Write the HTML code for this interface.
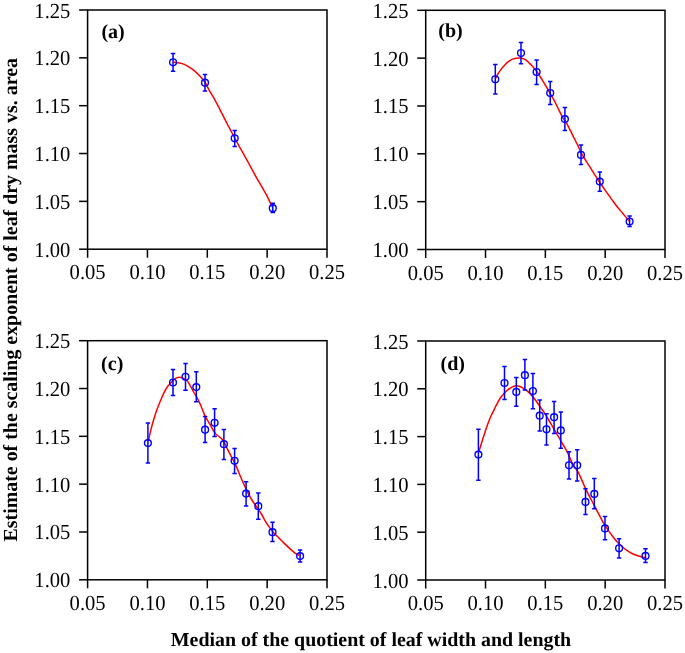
<!DOCTYPE html>
<html><head><meta charset="utf-8"><style>
html,body{margin:0;padding:0;background:#fff;width:685px;height:653px;overflow:hidden}
svg{display:block;will-change:transform;text-rendering:geometricPrecision}
.t{font-family:"Liberation Serif",serif;font-size:20.6px;fill:#000}
.pl{font-family:"Liberation Serif",serif;font-size:20px;font-weight:bold;fill:#000}
.ti{font-family:"Liberation Serif",serif;font-size:19.92px;font-weight:bold;fill:#000}
</style></head><body>
<svg width="685" height="653" viewBox="0 0 685 653">
<rect width="685" height="653" fill="#fff"/>
<rect x="87.6" y="10.0" width="239.40" height="239.20" fill="none" stroke="#000" stroke-width="1.5"/>
<line x1="79.10" y1="249.20" x2="87.60" y2="249.20" stroke="#000" stroke-width="1.5"/>
<text transform="translate(70.40,256.70) scale(1,1.04)" text-anchor="end" class="t">1.00</text>
<line x1="79.10" y1="201.36" x2="87.60" y2="201.36" stroke="#000" stroke-width="1.5"/>
<text transform="translate(70.40,208.86) scale(1,1.04)" text-anchor="end" class="t">1.05</text>
<line x1="79.10" y1="153.52" x2="87.60" y2="153.52" stroke="#000" stroke-width="1.5"/>
<text transform="translate(70.40,161.02) scale(1,1.04)" text-anchor="end" class="t">1.10</text>
<line x1="79.10" y1="105.68" x2="87.60" y2="105.68" stroke="#000" stroke-width="1.5"/>
<text transform="translate(70.40,113.18) scale(1,1.04)" text-anchor="end" class="t">1.15</text>
<line x1="79.10" y1="57.84" x2="87.60" y2="57.84" stroke="#000" stroke-width="1.5"/>
<text transform="translate(70.40,65.34) scale(1,1.04)" text-anchor="end" class="t">1.20</text>
<line x1="79.10" y1="10.00" x2="87.60" y2="10.00" stroke="#000" stroke-width="1.5"/>
<text transform="translate(70.40,17.50) scale(1,1.04)" text-anchor="end" class="t">1.25</text>
<line x1="87.60" y1="249.20" x2="87.60" y2="257.70" stroke="#000" stroke-width="1.5"/>
<text transform="translate(87.60,279.40) scale(1,1.04)" text-anchor="middle" class="t">0.05</text>
<line x1="147.45" y1="249.20" x2="147.45" y2="257.70" stroke="#000" stroke-width="1.5"/>
<text transform="translate(147.45,279.40) scale(1,1.04)" text-anchor="middle" class="t">0.10</text>
<line x1="207.30" y1="249.20" x2="207.30" y2="257.70" stroke="#000" stroke-width="1.5"/>
<text transform="translate(207.30,279.40) scale(1,1.04)" text-anchor="middle" class="t">0.15</text>
<line x1="267.15" y1="249.20" x2="267.15" y2="257.70" stroke="#000" stroke-width="1.5"/>
<text transform="translate(267.15,279.40) scale(1,1.04)" text-anchor="middle" class="t">0.20</text>
<line x1="327.00" y1="249.20" x2="327.00" y2="257.70" stroke="#000" stroke-width="1.5"/>
<text transform="translate(327.00,279.40) scale(1,1.04)" text-anchor="middle" class="t">0.25</text>
<text x="101.4" y="37.8" class="pl">(a)</text>
<path d="M173.70,62.30 C175.12,62.52 179.75,62.88 182.20,63.60 C184.65,64.32 186.35,65.38 188.40,66.60 C190.45,67.82 192.52,69.23 194.50,70.90 C196.48,72.57 198.48,74.58 200.30,76.60 C202.12,78.62 203.83,80.58 205.40,83.00 C206.97,85.42 208.28,88.58 209.70,91.10 C211.12,93.62 212.48,95.60 213.90,98.10 C215.32,100.60 216.77,103.33 218.20,106.10 C219.63,108.87 220.90,111.55 222.50,114.70 C224.10,117.85 226.12,121.78 227.80,125.00 C229.48,128.22 230.77,130.55 232.60,134.00 C234.43,137.45 236.85,142.15 238.80,145.70 C240.75,149.25 242.77,152.58 244.30,155.30 C245.83,158.02 246.70,159.62 248.00,162.00 C249.30,164.38 250.62,166.88 252.10,169.60 C253.58,172.32 255.30,175.47 256.90,178.30 C258.50,181.13 260.08,183.78 261.70,186.60 C263.32,189.42 265.10,192.33 266.60,195.20 C268.10,198.07 269.73,201.85 270.70,203.80 C271.67,205.75 272.12,206.38 272.40,206.90" fill="none" stroke="#f00" stroke-width="1.5"/>
<path d="M173.05,53.50V71.20M170.85,53.50h4.4M170.85,71.20h4.4" stroke="#00f" stroke-width="1.5" fill="none"/>
<circle cx="173.05" cy="62.30" r="3.4" fill="none" stroke="#00f" stroke-width="1.4"/>
<path d="M205.00,74.40V91.00M202.80,74.40h4.4M202.80,91.00h4.4" stroke="#00f" stroke-width="1.5" fill="none"/>
<circle cx="205.00" cy="82.70" r="3.4" fill="none" stroke="#00f" stroke-width="1.4"/>
<path d="M234.70,130.50V146.40M232.50,130.50h4.4M232.50,146.40h4.4" stroke="#00f" stroke-width="1.5" fill="none"/>
<circle cx="234.70" cy="138.30" r="3.4" fill="none" stroke="#00f" stroke-width="1.4"/>
<path d="M272.80,203.30V212.50M270.60,203.30h4.4M270.60,212.50h4.4" stroke="#00f" stroke-width="1.5" fill="none"/>
<circle cx="272.80" cy="208.20" r="3.4" fill="none" stroke="#00f" stroke-width="1.4"/>
<rect x="425.7" y="10.3" width="239.30" height="239.20" fill="none" stroke="#000" stroke-width="1.5"/>
<line x1="417.20" y1="249.50" x2="425.70" y2="249.50" stroke="#000" stroke-width="1.5"/>
<text transform="translate(408.50,257.00) scale(1,1.04)" text-anchor="end" class="t">1.00</text>
<line x1="417.20" y1="201.66" x2="425.70" y2="201.66" stroke="#000" stroke-width="1.5"/>
<text transform="translate(408.50,209.16) scale(1,1.04)" text-anchor="end" class="t">1.05</text>
<line x1="417.20" y1="153.82" x2="425.70" y2="153.82" stroke="#000" stroke-width="1.5"/>
<text transform="translate(408.50,161.32) scale(1,1.04)" text-anchor="end" class="t">1.10</text>
<line x1="417.20" y1="105.98" x2="425.70" y2="105.98" stroke="#000" stroke-width="1.5"/>
<text transform="translate(408.50,113.48) scale(1,1.04)" text-anchor="end" class="t">1.15</text>
<line x1="417.20" y1="58.14" x2="425.70" y2="58.14" stroke="#000" stroke-width="1.5"/>
<text transform="translate(408.50,65.64) scale(1,1.04)" text-anchor="end" class="t">1.20</text>
<line x1="417.20" y1="10.30" x2="425.70" y2="10.30" stroke="#000" stroke-width="1.5"/>
<text transform="translate(408.50,17.80) scale(1,1.04)" text-anchor="end" class="t">1.25</text>
<line x1="425.70" y1="249.50" x2="425.70" y2="258.00" stroke="#000" stroke-width="1.5"/>
<text transform="translate(425.70,279.70) scale(1,1.04)" text-anchor="middle" class="t">0.05</text>
<line x1="485.52" y1="249.50" x2="485.52" y2="258.00" stroke="#000" stroke-width="1.5"/>
<text transform="translate(485.52,279.70) scale(1,1.04)" text-anchor="middle" class="t">0.10</text>
<line x1="545.35" y1="249.50" x2="545.35" y2="258.00" stroke="#000" stroke-width="1.5"/>
<text transform="translate(545.35,279.70) scale(1,1.04)" text-anchor="middle" class="t">0.15</text>
<line x1="605.17" y1="249.50" x2="605.17" y2="258.00" stroke="#000" stroke-width="1.5"/>
<text transform="translate(605.17,279.70) scale(1,1.04)" text-anchor="middle" class="t">0.20</text>
<line x1="665.00" y1="249.50" x2="665.00" y2="258.00" stroke="#000" stroke-width="1.5"/>
<text transform="translate(665.00,279.70) scale(1,1.04)" text-anchor="middle" class="t">0.25</text>
<text x="438.3" y="37.2" class="pl">(b)</text>
<path d="M495.60,78.50 C496.02,77.70 497.17,75.27 498.10,73.70 C499.03,72.13 500.17,70.47 501.20,69.10 C502.23,67.73 503.28,66.62 504.30,65.50 C505.32,64.38 506.28,63.27 507.30,62.40 C508.32,61.53 509.38,60.88 510.40,60.30 C511.42,59.72 512.38,59.25 513.40,58.90 C514.42,58.55 515.47,58.33 516.50,58.20 C517.53,58.07 518.58,58.05 519.60,58.10 C520.62,58.15 521.58,58.20 522.60,58.50 C523.62,58.80 524.72,59.27 525.70,59.90 C526.68,60.53 527.45,61.32 528.50,62.30 C529.55,63.28 530.58,64.20 532.00,65.80 C533.42,67.40 535.35,69.63 537.00,71.90 C538.65,74.17 540.33,76.90 541.90,79.40 C543.47,81.90 544.98,84.50 546.40,86.90 C547.82,89.30 548.98,91.32 550.40,93.80 C551.82,96.28 553.50,99.13 554.90,101.80 C556.30,104.47 557.48,107.15 558.80,109.80 C560.12,112.45 561.65,115.75 562.80,117.70 C563.95,119.65 564.60,119.67 565.70,121.50 C566.80,123.33 568.07,126.07 569.40,128.70 C570.73,131.33 572.27,134.43 573.70,137.30 C575.13,140.17 576.65,143.12 578.00,145.90 C579.35,148.68 580.37,151.35 581.80,154.00 C583.23,156.65 585.00,159.25 586.60,161.80 C588.20,164.35 589.83,166.82 591.40,169.30 C592.97,171.78 594.57,174.47 596.00,176.70 C597.43,178.93 598.63,180.67 600.00,182.70 C601.37,184.73 602.73,186.80 604.20,188.90 C605.67,191.00 607.27,193.17 608.80,195.30 C610.33,197.43 611.87,199.63 613.40,201.70 C614.93,203.77 616.47,205.78 618.00,207.70 C619.53,209.62 621.07,211.37 622.60,213.20 C624.13,215.03 626.07,217.40 627.20,218.70 C628.33,220.00 629.03,220.62 629.40,221.00" fill="none" stroke="#f00" stroke-width="1.5"/>
<path d="M495.30,64.40V94.10M493.10,64.40h4.4M493.10,94.10h4.4" stroke="#00f" stroke-width="1.5" fill="none"/>
<circle cx="495.30" cy="79.30" r="3.4" fill="none" stroke="#00f" stroke-width="1.4"/>
<path d="M521.00,42.40V63.80M518.80,42.40h4.4M518.80,63.80h4.4" stroke="#00f" stroke-width="1.5" fill="none"/>
<circle cx="521.00" cy="53.00" r="3.4" fill="none" stroke="#00f" stroke-width="1.4"/>
<path d="M536.60,60.10V84.60M534.40,60.10h4.4M534.40,84.60h4.4" stroke="#00f" stroke-width="1.5" fill="none"/>
<circle cx="536.60" cy="72.00" r="3.4" fill="none" stroke="#00f" stroke-width="1.4"/>
<path d="M550.20,81.60V104.50M548.00,81.60h4.4M548.00,104.50h4.4" stroke="#00f" stroke-width="1.5" fill="none"/>
<circle cx="550.20" cy="93.00" r="3.4" fill="none" stroke="#00f" stroke-width="1.4"/>
<path d="M564.90,107.50V130.60M562.70,107.50h4.4M562.70,130.60h4.4" stroke="#00f" stroke-width="1.5" fill="none"/>
<circle cx="564.90" cy="119.10" r="3.4" fill="none" stroke="#00f" stroke-width="1.4"/>
<path d="M581.00,145.00V164.60M578.80,145.00h4.4M578.80,164.60h4.4" stroke="#00f" stroke-width="1.5" fill="none"/>
<circle cx="581.00" cy="154.90" r="3.4" fill="none" stroke="#00f" stroke-width="1.4"/>
<path d="M599.80,172.10V191.20M597.60,172.10h4.4M597.60,191.20h4.4" stroke="#00f" stroke-width="1.5" fill="none"/>
<circle cx="599.80" cy="181.60" r="3.4" fill="none" stroke="#00f" stroke-width="1.4"/>
<path d="M629.60,215.90V226.40M627.40,215.90h4.4M627.40,226.40h4.4" stroke="#00f" stroke-width="1.5" fill="none"/>
<circle cx="629.60" cy="221.50" r="3.4" fill="none" stroke="#00f" stroke-width="1.4"/>
<rect x="87.6" y="340.7" width="239.40" height="239.10" fill="none" stroke="#000" stroke-width="1.5"/>
<line x1="79.10" y1="579.80" x2="87.60" y2="579.80" stroke="#000" stroke-width="1.5"/>
<text transform="translate(70.40,587.30) scale(1,1.04)" text-anchor="end" class="t">1.00</text>
<line x1="79.10" y1="531.98" x2="87.60" y2="531.98" stroke="#000" stroke-width="1.5"/>
<text transform="translate(70.40,539.48) scale(1,1.04)" text-anchor="end" class="t">1.05</text>
<line x1="79.10" y1="484.16" x2="87.60" y2="484.16" stroke="#000" stroke-width="1.5"/>
<text transform="translate(70.40,491.66) scale(1,1.04)" text-anchor="end" class="t">1.10</text>
<line x1="79.10" y1="436.34" x2="87.60" y2="436.34" stroke="#000" stroke-width="1.5"/>
<text transform="translate(70.40,443.84) scale(1,1.04)" text-anchor="end" class="t">1.15</text>
<line x1="79.10" y1="388.52" x2="87.60" y2="388.52" stroke="#000" stroke-width="1.5"/>
<text transform="translate(70.40,396.02) scale(1,1.04)" text-anchor="end" class="t">1.20</text>
<line x1="79.10" y1="340.70" x2="87.60" y2="340.70" stroke="#000" stroke-width="1.5"/>
<text transform="translate(70.40,348.20) scale(1,1.04)" text-anchor="end" class="t">1.25</text>
<line x1="87.60" y1="579.80" x2="87.60" y2="588.30" stroke="#000" stroke-width="1.5"/>
<text transform="translate(87.60,610.00) scale(1,1.04)" text-anchor="middle" class="t">0.05</text>
<line x1="147.45" y1="579.80" x2="147.45" y2="588.30" stroke="#000" stroke-width="1.5"/>
<text transform="translate(147.45,610.00) scale(1,1.04)" text-anchor="middle" class="t">0.10</text>
<line x1="207.30" y1="579.80" x2="207.30" y2="588.30" stroke="#000" stroke-width="1.5"/>
<text transform="translate(207.30,610.00) scale(1,1.04)" text-anchor="middle" class="t">0.15</text>
<line x1="267.15" y1="579.80" x2="267.15" y2="588.30" stroke="#000" stroke-width="1.5"/>
<text transform="translate(267.15,610.00) scale(1,1.04)" text-anchor="middle" class="t">0.20</text>
<line x1="327.00" y1="579.80" x2="327.00" y2="588.30" stroke="#000" stroke-width="1.5"/>
<text transform="translate(327.00,610.00) scale(1,1.04)" text-anchor="middle" class="t">0.25</text>
<text x="101.1" y="369.5" class="pl">(c)</text>
<path d="M148.20,441.50 C148.67,439.48 150.08,433.07 151.00,429.40 C151.92,425.73 152.70,422.82 153.70,419.50 C154.70,416.18 155.87,412.63 157.00,409.50 C158.13,406.37 159.37,403.42 160.50,400.70 C161.63,397.98 162.73,395.40 163.80,393.20 C164.87,391.00 165.95,388.98 166.90,387.50 C167.85,386.02 168.65,385.28 169.50,384.30 C170.35,383.32 171.08,382.52 172.00,381.60 C172.92,380.68 174.15,379.47 175.00,378.80 C175.85,378.13 176.32,377.87 177.10,377.60 C177.88,377.33 178.93,377.20 179.70,377.20 C180.47,377.20 181.05,377.38 181.70,377.60 C182.35,377.82 182.68,377.97 183.60,378.50 C184.52,379.03 186.25,379.87 187.20,380.80 C188.15,381.73 188.63,382.98 189.30,384.10 C189.97,385.22 190.43,386.10 191.20,387.50 C191.97,388.90 192.87,390.70 193.90,392.50 C194.93,394.30 196.30,396.25 197.40,398.30 C198.50,400.35 199.23,401.87 200.50,404.80 C201.77,407.73 203.42,412.63 205.00,415.90 C206.58,419.17 208.35,421.57 210.00,424.40 C211.65,427.23 213.25,430.75 214.90,432.90 C216.55,435.05 218.48,435.98 219.90,437.30 C221.32,438.62 222.23,439.05 223.40,440.80 C224.57,442.55 225.67,445.32 226.90,447.80 C228.13,450.28 229.35,452.85 230.80,455.70 C232.25,458.55 233.88,461.18 235.60,464.90 C237.32,468.62 239.37,474.02 241.10,478.00 C242.83,481.98 244.35,485.38 246.00,488.80 C247.65,492.22 249.25,495.50 251.00,498.50 C252.75,501.50 254.77,504.22 256.50,506.80 C258.23,509.38 259.98,511.68 261.40,514.00 C262.82,516.32 263.72,518.55 265.00,520.70 C266.28,522.85 267.72,524.95 269.10,526.90 C270.48,528.85 271.68,530.57 273.30,532.40 C274.92,534.23 276.97,536.07 278.80,537.90 C280.63,539.73 282.47,541.62 284.30,543.40 C286.13,545.18 288.07,547.03 289.80,548.60 C291.53,550.17 293.08,551.62 294.70,552.80 C296.32,553.98 298.70,555.22 299.50,555.70" fill="none" stroke="#f00" stroke-width="1.5"/>
<path d="M147.90,423.10V463.00M145.70,423.10h4.4M145.70,463.00h4.4" stroke="#00f" stroke-width="1.5" fill="none"/>
<circle cx="147.90" cy="443.10" r="3.4" fill="none" stroke="#00f" stroke-width="1.4"/>
<path d="M173.00,369.50V395.50M170.80,369.50h4.4M170.80,395.50h4.4" stroke="#00f" stroke-width="1.5" fill="none"/>
<circle cx="173.00" cy="382.50" r="3.4" fill="none" stroke="#00f" stroke-width="1.4"/>
<path d="M185.50,363.40V390.30M183.30,363.40h4.4M183.30,390.30h4.4" stroke="#00f" stroke-width="1.5" fill="none"/>
<circle cx="185.50" cy="376.80" r="3.4" fill="none" stroke="#00f" stroke-width="1.4"/>
<path d="M196.30,371.80V401.70M194.10,371.80h4.4M194.10,401.70h4.4" stroke="#00f" stroke-width="1.5" fill="none"/>
<circle cx="196.30" cy="387.10" r="3.4" fill="none" stroke="#00f" stroke-width="1.4"/>
<path d="M205.10,416.40V442.40M202.90,416.40h4.4M202.90,442.40h4.4" stroke="#00f" stroke-width="1.5" fill="none"/>
<circle cx="205.10" cy="429.70" r="3.4" fill="none" stroke="#00f" stroke-width="1.4"/>
<path d="M214.60,408.70V436.60M212.40,408.70h4.4M212.40,436.60h4.4" stroke="#00f" stroke-width="1.5" fill="none"/>
<circle cx="214.60" cy="422.80" r="3.4" fill="none" stroke="#00f" stroke-width="1.4"/>
<path d="M223.90,429.50V459.40M221.70,429.50h4.4M221.70,459.40h4.4" stroke="#00f" stroke-width="1.5" fill="none"/>
<circle cx="223.90" cy="444.20" r="3.4" fill="none" stroke="#00f" stroke-width="1.4"/>
<path d="M234.60,448.40V473.40M232.40,448.40h4.4M232.40,473.40h4.4" stroke="#00f" stroke-width="1.5" fill="none"/>
<circle cx="234.60" cy="460.80" r="3.4" fill="none" stroke="#00f" stroke-width="1.4"/>
<path d="M246.10,481.80V505.90M243.90,481.80h4.4M243.90,505.90h4.4" stroke="#00f" stroke-width="1.5" fill="none"/>
<circle cx="246.10" cy="493.60" r="3.4" fill="none" stroke="#00f" stroke-width="1.4"/>
<path d="M258.30,492.90V519.30M256.10,492.90h4.4M256.10,519.30h4.4" stroke="#00f" stroke-width="1.5" fill="none"/>
<circle cx="258.30" cy="506.20" r="3.4" fill="none" stroke="#00f" stroke-width="1.4"/>
<path d="M272.50,522.30V541.40M270.30,522.30h4.4M270.30,541.40h4.4" stroke="#00f" stroke-width="1.5" fill="none"/>
<circle cx="272.50" cy="532.20" r="3.4" fill="none" stroke="#00f" stroke-width="1.4"/>
<path d="M300.10,549.90V562.10M297.90,549.90h4.4M297.90,562.10h4.4" stroke="#00f" stroke-width="1.5" fill="none"/>
<circle cx="300.10" cy="556.10" r="3.4" fill="none" stroke="#00f" stroke-width="1.4"/>
<rect x="425.7" y="341.0" width="239.30" height="239.00" fill="none" stroke="#000" stroke-width="1.5"/>
<line x1="417.20" y1="580.00" x2="425.70" y2="580.00" stroke="#000" stroke-width="1.5"/>
<text transform="translate(408.50,587.50) scale(1,1.04)" text-anchor="end" class="t">1.00</text>
<line x1="417.20" y1="532.20" x2="425.70" y2="532.20" stroke="#000" stroke-width="1.5"/>
<text transform="translate(408.50,539.70) scale(1,1.04)" text-anchor="end" class="t">1.05</text>
<line x1="417.20" y1="484.40" x2="425.70" y2="484.40" stroke="#000" stroke-width="1.5"/>
<text transform="translate(408.50,491.90) scale(1,1.04)" text-anchor="end" class="t">1.10</text>
<line x1="417.20" y1="436.60" x2="425.70" y2="436.60" stroke="#000" stroke-width="1.5"/>
<text transform="translate(408.50,444.10) scale(1,1.04)" text-anchor="end" class="t">1.15</text>
<line x1="417.20" y1="388.80" x2="425.70" y2="388.80" stroke="#000" stroke-width="1.5"/>
<text transform="translate(408.50,396.30) scale(1,1.04)" text-anchor="end" class="t">1.20</text>
<line x1="417.20" y1="341.00" x2="425.70" y2="341.00" stroke="#000" stroke-width="1.5"/>
<text transform="translate(408.50,348.50) scale(1,1.04)" text-anchor="end" class="t">1.25</text>
<line x1="425.70" y1="580.00" x2="425.70" y2="588.50" stroke="#000" stroke-width="1.5"/>
<text transform="translate(425.70,610.20) scale(1,1.04)" text-anchor="middle" class="t">0.05</text>
<line x1="485.52" y1="580.00" x2="485.52" y2="588.50" stroke="#000" stroke-width="1.5"/>
<text transform="translate(485.52,610.20) scale(1,1.04)" text-anchor="middle" class="t">0.10</text>
<line x1="545.35" y1="580.00" x2="545.35" y2="588.50" stroke="#000" stroke-width="1.5"/>
<text transform="translate(545.35,610.20) scale(1,1.04)" text-anchor="middle" class="t">0.15</text>
<line x1="605.17" y1="580.00" x2="605.17" y2="588.50" stroke="#000" stroke-width="1.5"/>
<text transform="translate(605.17,610.20) scale(1,1.04)" text-anchor="middle" class="t">0.20</text>
<line x1="665.00" y1="580.00" x2="665.00" y2="588.50" stroke="#000" stroke-width="1.5"/>
<text transform="translate(665.00,610.20) scale(1,1.04)" text-anchor="middle" class="t">0.25</text>
<text x="440.5" y="369.5" class="pl">(d)</text>
<path d="M478.80,452.00 C479.38,450.08 481.33,443.60 482.30,440.50 C483.27,437.40 483.83,435.72 484.60,433.40 C485.37,431.08 486.13,428.78 486.90,426.60 C487.67,424.42 488.43,422.23 489.20,420.30 C489.97,418.37 490.73,416.67 491.50,415.00 C492.27,413.33 492.85,412.23 493.80,410.30 C494.75,408.37 496.02,405.58 497.20,403.40 C498.38,401.22 499.77,398.83 500.90,397.20 C502.03,395.57 502.98,394.72 504.00,393.60 C505.02,392.48 505.88,391.47 507.00,390.50 C508.12,389.53 509.70,388.45 510.70,387.80 C511.70,387.15 512.07,386.93 513.00,386.60 C513.93,386.27 515.13,385.82 516.30,385.80 C517.47,385.78 518.88,386.12 520.00,386.50 C521.12,386.88 521.88,387.40 523.00,388.10 C524.12,388.80 525.57,389.80 526.70,390.70 C527.83,391.60 528.78,392.48 529.80,393.50 C530.82,394.52 531.78,395.58 532.80,396.80 C533.82,398.02 534.88,399.43 535.90,400.80 C536.92,402.17 537.93,403.63 538.90,405.00 C539.87,406.37 540.62,407.45 541.70,409.00 C542.78,410.55 544.18,412.38 545.40,414.30 C546.62,416.22 547.78,418.40 549.00,420.50 C550.22,422.60 551.47,424.78 552.70,426.90 C553.93,429.02 555.17,431.08 556.40,433.20 C557.63,435.32 558.87,437.47 560.10,439.60 C561.33,441.73 562.57,443.85 563.80,446.00 C565.03,448.15 566.03,449.50 567.50,452.50 C568.97,455.50 570.78,460.65 572.60,464.00 C574.42,467.35 576.18,468.38 578.40,472.60 C580.62,476.82 583.22,483.75 585.90,489.30 C588.58,494.85 591.92,500.93 594.50,505.90 C597.08,510.87 599.65,515.85 601.40,519.10 C603.15,522.35 603.08,522.45 605.00,525.40 C606.92,528.35 610.50,533.65 612.90,536.80 C615.30,539.95 617.08,542.05 619.40,544.30 C621.72,546.55 624.23,548.55 626.80,550.30 C629.37,552.05 632.13,553.65 634.80,554.80 C637.47,555.95 641.02,556.75 642.80,557.20 C644.58,557.65 645.05,557.45 645.50,557.50" fill="none" stroke="#f00" stroke-width="1.5"/>
<path d="M478.40,429.20V480.30M476.20,429.20h4.4M476.20,480.30h4.4" stroke="#00f" stroke-width="1.5" fill="none"/>
<circle cx="478.40" cy="454.60" r="3.4" fill="none" stroke="#00f" stroke-width="1.4"/>
<path d="M504.50,366.50V399.60M502.30,366.50h4.4M502.30,399.60h4.4" stroke="#00f" stroke-width="1.5" fill="none"/>
<circle cx="504.50" cy="383.00" r="3.4" fill="none" stroke="#00f" stroke-width="1.4"/>
<path d="M516.30,377.50V406.30M514.10,377.50h4.4M514.10,406.30h4.4" stroke="#00f" stroke-width="1.5" fill="none"/>
<circle cx="516.30" cy="391.90" r="3.4" fill="none" stroke="#00f" stroke-width="1.4"/>
<path d="M524.90,359.60V389.90M522.70,359.60h4.4M522.70,389.90h4.4" stroke="#00f" stroke-width="1.5" fill="none"/>
<circle cx="524.90" cy="375.20" r="3.4" fill="none" stroke="#00f" stroke-width="1.4"/>
<path d="M532.90,373.40V408.80M530.70,373.40h4.4M530.70,408.80h4.4" stroke="#00f" stroke-width="1.5" fill="none"/>
<circle cx="532.90" cy="391.00" r="3.4" fill="none" stroke="#00f" stroke-width="1.4"/>
<path d="M539.70,400.10V431.00M537.50,400.10h4.4M537.50,431.00h4.4" stroke="#00f" stroke-width="1.5" fill="none"/>
<circle cx="539.70" cy="415.70" r="3.4" fill="none" stroke="#00f" stroke-width="1.4"/>
<path d="M546.50,413.80V444.90M544.30,413.80h4.4M544.30,444.90h4.4" stroke="#00f" stroke-width="1.5" fill="none"/>
<circle cx="546.50" cy="429.30" r="3.4" fill="none" stroke="#00f" stroke-width="1.4"/>
<path d="M554.10,401.60V433.40M551.90,401.60h4.4M551.90,433.40h4.4" stroke="#00f" stroke-width="1.5" fill="none"/>
<circle cx="554.10" cy="417.20" r="3.4" fill="none" stroke="#00f" stroke-width="1.4"/>
<path d="M560.80,412.00V448.30M558.60,412.00h4.4M558.60,448.30h4.4" stroke="#00f" stroke-width="1.5" fill="none"/>
<circle cx="560.80" cy="430.40" r="3.4" fill="none" stroke="#00f" stroke-width="1.4"/>
<path d="M569.00,451.70V479.10M566.80,451.70h4.4M566.80,479.10h4.4" stroke="#00f" stroke-width="1.5" fill="none"/>
<circle cx="569.00" cy="465.30" r="3.4" fill="none" stroke="#00f" stroke-width="1.4"/>
<path d="M577.20,449.80V480.90M575.00,449.80h4.4M575.00,480.90h4.4" stroke="#00f" stroke-width="1.5" fill="none"/>
<circle cx="577.20" cy="465.30" r="3.4" fill="none" stroke="#00f" stroke-width="1.4"/>
<path d="M585.50,488.70V514.50M583.30,488.70h4.4M583.30,514.50h4.4" stroke="#00f" stroke-width="1.5" fill="none"/>
<circle cx="585.50" cy="501.90" r="3.4" fill="none" stroke="#00f" stroke-width="1.4"/>
<path d="M594.30,478.60V508.80M592.10,478.60h4.4M592.10,508.80h4.4" stroke="#00f" stroke-width="1.5" fill="none"/>
<circle cx="594.30" cy="493.90" r="3.4" fill="none" stroke="#00f" stroke-width="1.4"/>
<path d="M605.00,516.40V539.80M602.80,516.40h4.4M602.80,539.80h4.4" stroke="#00f" stroke-width="1.5" fill="none"/>
<circle cx="605.00" cy="528.40" r="3.4" fill="none" stroke="#00f" stroke-width="1.4"/>
<path d="M619.10,538.80V557.90M616.90,538.80h4.4M616.90,557.90h4.4" stroke="#00f" stroke-width="1.5" fill="none"/>
<circle cx="619.10" cy="548.30" r="3.4" fill="none" stroke="#00f" stroke-width="1.4"/>
<path d="M645.50,548.80V562.40M643.30,548.80h4.4M643.30,562.40h4.4" stroke="#00f" stroke-width="1.5" fill="none"/>
<circle cx="645.50" cy="555.90" r="3.4" fill="none" stroke="#00f" stroke-width="1.4"/>
<text x="170.8" y="645.7" class="ti">Median of the quotient of leaf width and length</text>
<text transform="translate(16.5,541.5) rotate(-90)" x="0" y="0" class="ti">Estimate of the scaling exponent of leaf dry mass vs. area</text>
</svg>
</body></html>
